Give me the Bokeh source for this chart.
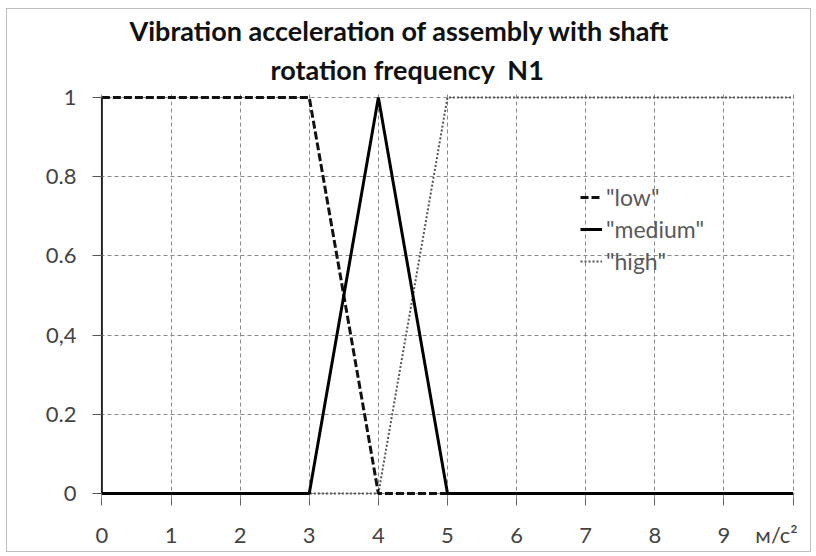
from bokeh.plotting import figure
from bokeh.models import Range1d, Legend, LegendItem, FixedTicker, Title
from bokeh.embed import file_html
from bokeh.resources import INLINE

# ---- data ----
x_low = [0, 3, 4, 10]
y_low = [1, 1, 0, 0]
x_med = [0, 3, 4, 5, 10]
y_med = [0, 0, 1, 0, 0]
x_high = [0, 4, 5, 10]
y_high = [0, 0, 1, 1]
grid_x = [0, 1, 2, 3, 4, 5, 6, 7, 8, 9, 10]
label_x = [0, 1, 2, 3, 4, 5, 6, 7, 8, 9, 9.76]
x_tick_labels = {0: "0", 1: "1", 2: "2", 3: "3", 4: "4", 5: "5", 6: "6", 7: "7", 8: "8", 9: "9", 9.76: "м/с²"}
y_ticks = [0, 0.2, 0.4, 0.6, 0.8, 1]
y_tick_labels = {0: "0", 0.2: "0.2", 0.4: "0,4", 0.6: "0.6", 0.8: "0.8", 1: "1"}
title_line1 = "Vibration acceleration of assembly with shaft"
title_line2 = "rotation frequency\u00a0\u00a0N1"
legend_labels = ['"low"', '"medium"', '"high"']

FONT = "Lato"

p = figure(width=805, height=544, output_backend="svg", toolbar_location=None,
           x_range=Range1d(-0.02, 10.02), y_range=Range1d(-0.01, 1.01),
           min_border_left=93, min_border_right=18, min_border_bottom=56, min_border_top=84)
p.styles = {"border": "1px solid #bdbdbd", "margin-left": "6px", "margin-top": "8px"}
p.outline_line_color = None
p.background_fill_color = "white"
p.border_fill_color = "white"

def style_title(t):
    t.align = "left"
    t.vertical_align = "top"
    t.text_font = FONT
    t.text_font_size = "27px"
    t.text_font_style = "bold"
    t.text_color = "#111111"

p.title.text = title_line1
style_title(p.title)
p.title.offset = 29
p.title.standoff = -5
t2 = Title(text=title_line2)
style_title(t2)
t2.offset = 170
t2.standoff = 12
p.add_layout(t2, "above")

# grids
for g in (p.xgrid, p.ygrid):
    g.grid_line_color = "#8a8a8a"
    g.grid_line_dash = "4 3"
    g.grid_line_width = 1
p.xgrid.ticker = FixedTicker(ticks=grid_x)
p.xaxis.ticker = FixedTicker(ticks=label_x, minor_ticks=grid_x)
p.yaxis.ticker = FixedTicker(ticks=y_ticks)
p.xaxis.major_label_overrides = x_tick_labels
p.yaxis.major_label_overrides = y_tick_labels

for ax in (p.xaxis, p.yaxis):
    ax.axis_line_color = None
    ax.major_label_text_font = FONT
    ax.major_label_text_font_size = "22px"
    ax.major_label_text_color = "#444444"
p.xaxis.major_tick_line_color = None
p.xaxis.minor_tick_line_color = "#666666"
p.xaxis.minor_tick_in = 0
p.xaxis.minor_tick_out = 8
p.xaxis.major_tick_in = 0
p.xaxis.major_tick_out = 8
p.xaxis.major_label_standoff = 15
p.yaxis.major_tick_line_color = "#555555"
p.yaxis.minor_tick_line_color = None
p.yaxis.major_tick_in = 2
p.yaxis.major_tick_out = 8
p.yaxis.major_label_standoff = 16

# y-axis line at x=0
p.segment(x0=[0], y0=[0], x1=[0], y1=[1], line_color="#222222", line_width=2)

r_high = p.line(x_high, y_high, line_color="#555555", line_width=2, line_dash="2 2")
r_low = p.line(x_low, y_low, line_color="#111111", line_width=3, line_dash="8 3")
r_med = p.line(x_med, y_med, line_color="#000000", line_width=3)

legend = Legend(items=[LegendItem(label=legend_labels[0], renderers=[r_low]),
                       LegendItem(label=legend_labels[1], renderers=[r_med]),
                       LegendItem(label=legend_labels[2], renderers=[r_high])],
                location=(478, 220), orientation="vertical")
legend.background_fill_alpha = 0
legend.border_line_alpha = 0
legend.label_text_font = FONT
legend.label_text_font_size = "23px"
legend.label_text_color = "#5a5a5a"
legend.glyph_width = 22
legend.label_height = 24
legend.label_standoff = 4
legend.spacing = 4
legend.padding = 2
legend.margin = 0
p.add_layout(legend, "center")

open("out.html", "w").write(file_html(p, INLINE))
